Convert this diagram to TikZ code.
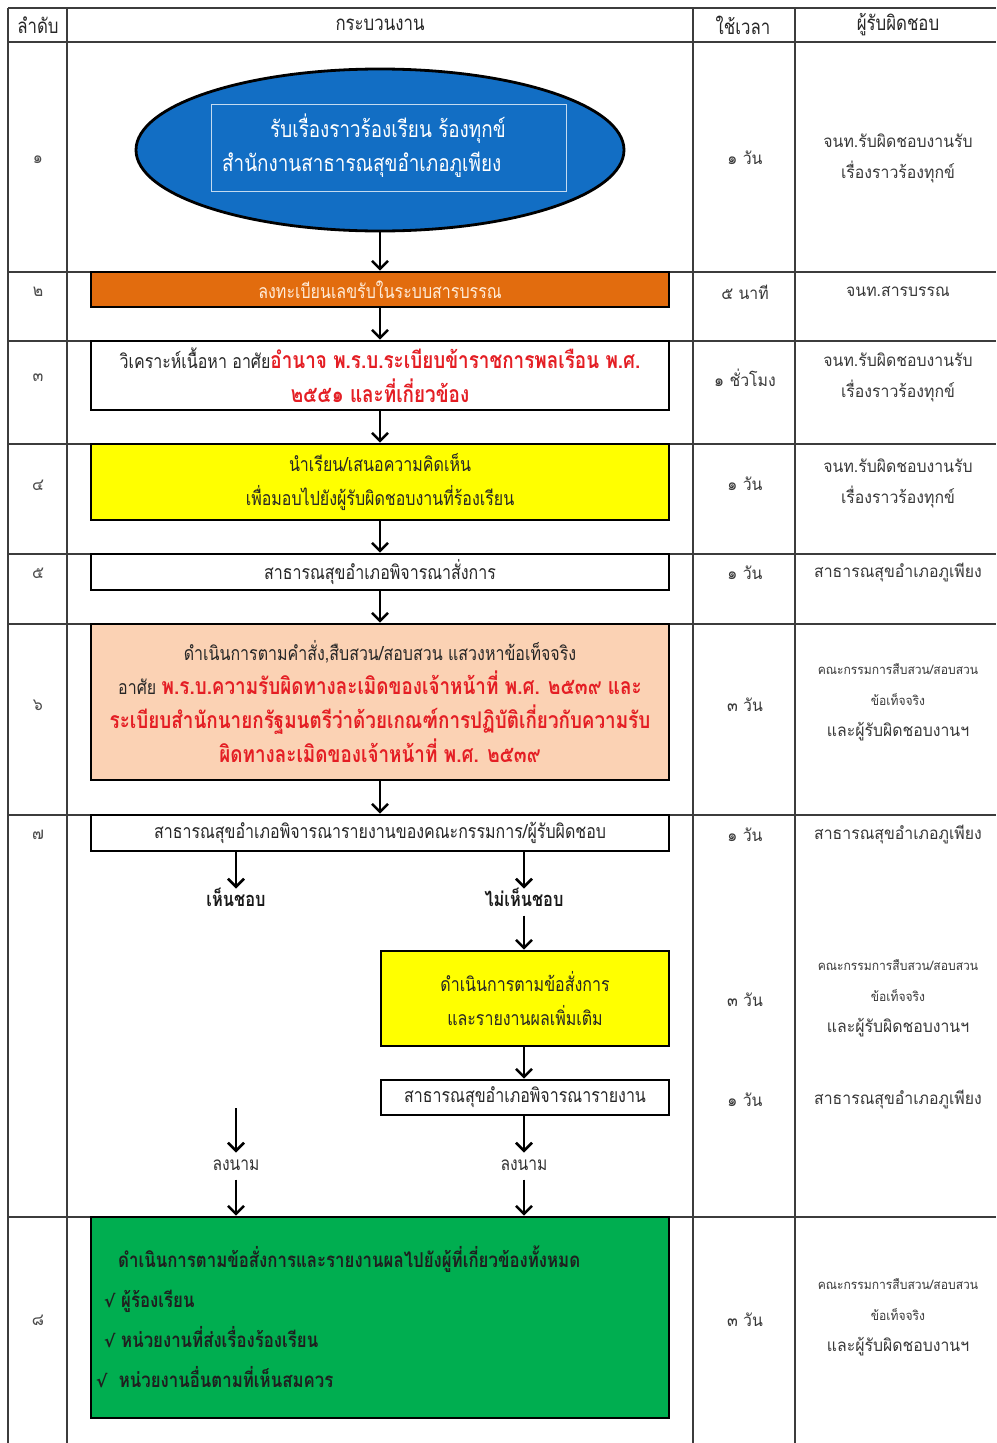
\documentclass[tikz,border=0pt]{standalone}
\usepackage{fontspec}
\setmainfont[Script=Thai]{Loma}
\newfontfamily\thaicond[Script=Thai,FakeStretch=0.82]{Loma}
\newfontfamily\thaiw[Script=Thai,FakeStretch=0.93]{Loma}
\newfontfamily\symf{DejaVu Sans}
\usetikzlibrary{arrows.meta,shapes.geometric}
\definecolor{ovalblue}{RGB}{18,110,196}
\definecolor{orangebox}{RGB}{226,108,14}
\definecolor{peach}{RGB}{251,210,180}
\definecolor{yel}{RGB}{255,255,0}
\definecolor{grn}{RGB}{0,174,80}
\definecolor{redtxt}{RGB}{228,30,36}
\definecolor{gridc}{RGB}{60,60,60}
\newcommand{\rtx}[1]{{\color{redtxt}\bfseries\fontsize{23}{34}\selectfont #1}}
\newcommand{\chk}{{\symf\bfseries\fontsize{17}{40}\selectfont √}}
\newcommand{\smalltx}[1]{{\fontsize{13}{30}\selectfont #1}}
\begin{document}
\begin{tikzpicture}[x=1pt,y=-1pt,
  gridline/.style={draw=gridc,line width=1.6pt},
  hdr/.style={font=\thaicond\fontsize{20.5}{22}\selectfont,text=black!85,inner sep=0pt},
  num/.style={font=\thaiw\fontsize{17}{18}\selectfont,text=black!70,inner sep=0pt},
  cell/.style={font=\thaiw\fontsize{17}{31}\selectfont,text=black!78,align=center,inner sep=0pt},
  box/.style={draw=black,line width=2.6pt,minimum width=578pt,inner sep=0pt,align=center,
    font=\thaicond\fontsize{19.5}{34}\selectfont,text=black!85},
  halfbox/.style={box,minimum width=288pt},
  lbl/.style={font=\thaicond\fontsize{19}{20}\selectfont,text=black!80,inner sep=2pt,
    text height=13pt,text depth=4pt,outer sep=3pt},
  flow/.style={line width=2.6pt,-{Straight Barb[length=8pt,width=16pt]}}]
\useasboundingbox (0,0) rectangle (996,1443);
\fill[white] (0,0) rectangle (996,1443);
% table grid
\foreach \yy in {8,42,272,341,444,554,624,815,1217} \draw[gridline] (8,\yy) -- (996,\yy);
\foreach \xx in {8,67,693,795} \draw[gridline] (\xx,8) -- (\xx,1443);
% header
\node[hdr] (h1) at (38,25) {ลำดับ};
\node[hdr] (h2) at (380,25) {กระบวนงาน};
\node[hdr] (h3) at (743,25) {ใช้เวลา};
\node[hdr] (h4) at (898,25) {ผู้รับผิดชอบ};
% numbers
\node[num] (n1) at (38,160) {๑};
\node[num] (n2) at (38,292) {๒};
\node[num] (n3) at (38,378) {๓};
\node[num] (n4) at (38,485) {๔};
\node[num] (n5) at (38,573) {๕};
\node[num] (n6) at (38,705) {๖};
\node[num] (n7) at (38,835) {๗};
\node[num] (n8) at (38,1320) {๘};
% time
\node[cell] (t1) at (745,158) {๑ วัน};
\node[cell] (t2) at (745,292) {๕ นาที};
\node[cell] (t3) at (745,378) {๑ ชั่วโมง};
\node[cell] (t4) at (745,484) {๑ วัน};
\node[cell] (t5) at (745,573) {๑ วัน};
\node[cell] (t6) at (745,705) {๓ วัน};
\node[cell] (t7) at (745,835) {๑ วัน};
\node[cell] (t7b) at (745,1000) {๓ วัน};
\node[cell] (t7c) at (745,1100) {๑ วัน};
\node[cell] (t8) at (745,1320) {๓ วัน};
% responsible
\node[cell] (r1) at (898,158) {จนท.รับผิดชอบงานรับ\\เรื่องราวร้องทุกข์};
\node[cell] (r2) at (898,292) {จนท.สารบรรณ};
\node[cell] (r3) at (898,377) {จนท.รับผิดชอบงานรับ\\เรื่องราวร้องทุกข์};
\node[cell] (r4) at (898,483) {จนท.รับผิดชอบงานรับ\\เรื่องราวร้องทุกข์};
\node[cell] (r5) at (898,573) {สาธารณสุขอำเภอภูเพียง};
\node[cell] (r6) at (898,702) {\smalltx{คณะกรรมการสืบสวน/สอบสวน}\\\smalltx{ข้อเท็จจริง}\\และผู้รับผิดชอบงานฯ};
\node[cell] (r7) at (898,835) {สาธารณสุขอำเภอภูเพียง};
\node[cell] (r7b) at (898,998) {\smalltx{คณะกรรมการสืบสวน/สอบสวน}\\\smalltx{ข้อเท็จจริง}\\และผู้รับผิดชอบงานฯ};
\node[cell] (r7c) at (898,1100) {สาธารณสุขอำเภอภูเพียง};
\node[cell] (r8) at (898,1317) {\smalltx{คณะกรรมการสืบสวน/สอบสวน}\\\smalltx{ข้อเท็จจริง}\\และผู้รับผิดชอบงานฯ};
% process
\node[ellipse,draw=black,line width=2.8pt,fill=ovalblue,minimum width=488pt,minimum height=162pt,inner sep=0pt] (oval) at (380,150) {};
\node[draw=white!75!ovalblue,line width=1pt,minimum width=355pt,minimum height=87pt,inner sep=0pt] (orect) at (388.5,147.5) {};
\node[anchor=west,align=left,inner sep=0pt,font=\thaicond\fontsize{23}{34}\selectfont,text=white] (otext) at (222,146)
  {\hspace*{48pt}รับเรื่องราวร้องเรียน ร้องทุกข์\\สำนักงานสาธารณสุขอำเภอภูเพียง};
\node[box,fill=orangebox,minimum height=35pt,text=white!85!orange] (s2) at (380,289.5) {ลงทะเบียนเลขรับในระบบสารบรรณ};
\node[box,fill=white,minimum height=69pt] (s3) at (380,375.5) {วิเคราะห์เนื้อหา อาศัย\rtx{อำนาจ พ.ร.บ.ระเบียบข้าราชการพลเรือน พ.ศ.}\\\rtx{๒๕๕๑ และที่เกี่ยวข้อง}};
\node[box,fill=yel,minimum height=76pt] (s4) at (380,482) {นำเรียน/เสนอความคิดเห็น\\เพื่อมอบไปยังผู้รับผิดชอบงานที่ร้องเรียน};
\node[box,fill=white,minimum height=36pt] (s5) at (380,572) {สาธารณสุขอำเภอพิจารณาสั่งการ};
\node[box,fill=peach,minimum height=156pt] (s6) at (380,702) {ดำเนินการตามคำสั่ง,สืบสวน/สอบสวน แสวงหาข้อเท็จจริง\\อาศัย \rtx{พ.ร.บ.ความรับผิดทางละเมิดของเจ้าหน้าที่ พ.ศ. ๒๕๓๙ และ}\\\rtx{ระเบียบสำนักนายกรัฐมนตรีว่าด้วยเกณฑ์การปฏิบัติเกี่ยวกับความรับ}\\\rtx{ผิดทางละเมิดของเจ้าหน้าที่ พ.ศ. ๒๕๓๙}};
\node[box,fill=white,minimum height=36pt] (s7) at (380,833) {สาธารณสุขอำเภอพิจารณารายงานของคณะกรรมการ/ผู้รับผิดชอบ};
\node[lbl,font=\thaicond\bfseries\fontsize{20}{20}\selectfont,text=black!90] (ok) at (236,902) {เห็นชอบ};
\node[lbl,font=\thaicond\bfseries\fontsize{20}{20}\selectfont,text=black!90] (nok) at (524,902) {ไม่เห็นชอบ};
\node[halfbox,fill=yel,minimum height=95pt] (y2) at (525,998.5) {ดำเนินการตามข้อสั่งการ\\และรายงานผลเพิ่มเติม};
\node[halfbox,fill=white,minimum height=35pt] (rep) at (525,1097.5) {สาธารณสุขอำเภอพิจารณารายงาน};
\node[lbl] (sg1) at (236,1166) {ลงนาม};
\node[lbl] (sg2) at (524,1166) {ลงนาม};
\coordinate (lfree) at (236,1108);
\node[box,fill=grn,minimum height=201pt] (g) at (380,1317.5) {};
\node[anchor=west,align=left,inner sep=0pt,text=black!88,font=\thaicond\bfseries\fontsize{20.5}{40}\selectfont] (gt) at (96,1317)
  {\hspace*{22pt}ดำเนินการตามข้อสั่งการและรายงานผลไปยังผู้ที่เกี่ยวข้องทั้งหมด\\
   \hspace*{8pt}\chk\ ผู้ร้องเรียน\\
   \hspace*{8pt}\chk\ หน่วยงานที่ส่งเรื่องร้องเรียน\\
   \chk\ \ หน่วยงานอื่นตามที่เห็นสมควร};
% connectors
\draw[flow] (oval.south) -- (s2.north);
\draw[flow] (s2.south) -- (s3.north);
\draw[flow] (s3.south) -- (s4.north);
\draw[flow] (s4.south) -- (s5.north);
\draw[flow] (s5.south) -- (s6.north);
\draw[flow] (s6.south) -- (s7.north);
\draw[flow] (s7.south -| ok) -- (ok.north);
\draw[flow] (s7.south -| nok) -- (nok.north);
\draw[flow] (nok.south) -- (y2.north -| nok);
\draw[flow] (y2.south -| nok) -- (rep.north -| nok);
\draw[flow] (rep.south -| sg2) -- (sg2.north);
\draw[flow] (lfree) -- (sg1.north);
\draw[flow] (sg1.south) -- (g.north -| sg1);
\draw[flow] (sg2.south) -- (g.north -| sg2);
\end{tikzpicture}
\end{document}
